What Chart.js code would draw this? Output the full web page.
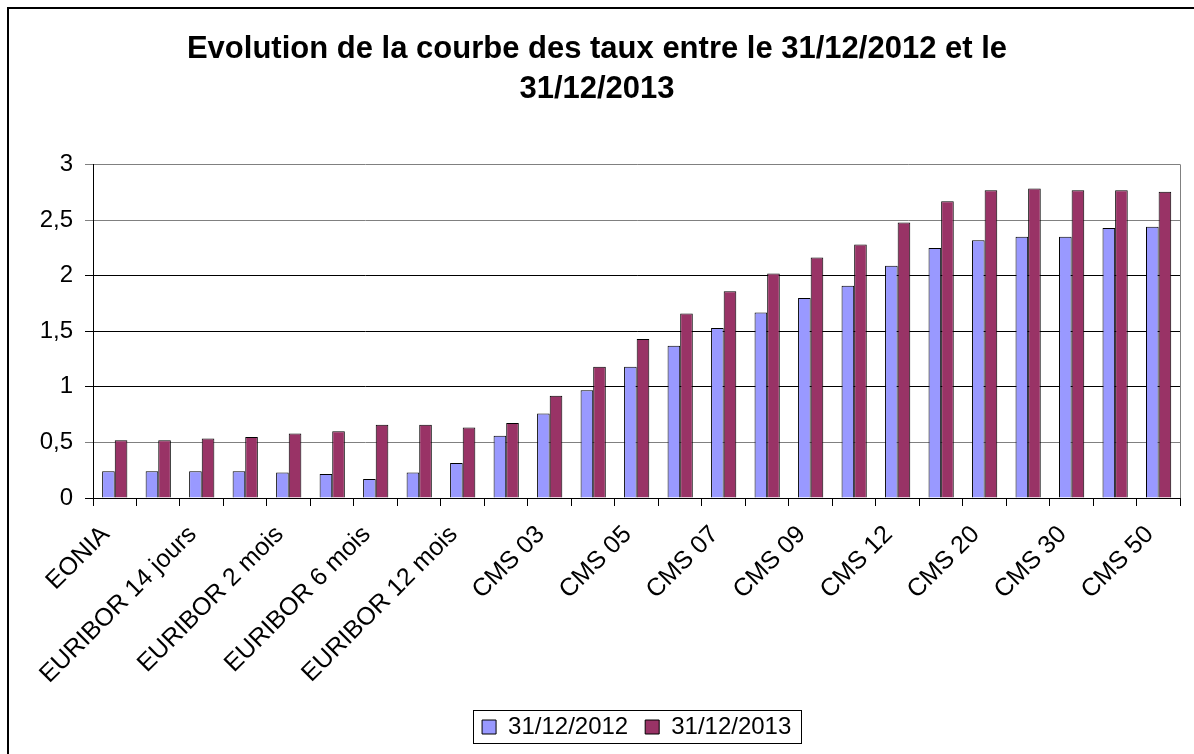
<!DOCTYPE html>
<html>
<head>
<meta charset="utf-8">
<script src="https://cdn.jsdelivr.net/npm/chart.js@4.4.1/dist/chart.umd.min.js"></script>
<style>
  body { margin: 0; background: #fff; }
  canvas { display: block; }
</style>
</head>
<body>
<canvas id="myChart" width="1194" height="754"></canvas>
<script>
const categories = ['EONIA', 'EURIBOR 1 semaine', 'EURIBOR 14 jours', 'EURIBOR 1 mois', 'EURIBOR 2 mois',
  'EURIBOR 3 mois', 'EURIBOR 6 mois', 'EURIBOR 9 mois', 'EURIBOR 12 mois', 'CMS 02', 'CMS 03', 'CMS 04',
  'CMS 05', 'CMS 06', 'CMS 07', 'CMS 08', 'CMS 09', 'CMS 10', 'CMS 12', 'CMS 15', 'CMS 20', 'CMS 25',
  'CMS 30', 'CMS 40', 'CMS 50'];
const rates2012 = [0.24, 0.24, 0.24, 0.24, 0.23, 0.215, 0.17, 0.23, 0.315, 0.56, 0.76, 0.97, 1.18,
  1.37, 1.53, 1.67, 1.80, 1.91, 2.09, 2.25, 2.32, 2.35, 2.35, 2.43, 2.44];
const rates2013 = [0.52, 0.52, 0.535, 0.55, 0.58, 0.60, 0.66, 0.66, 0.635, 0.675, 0.92, 1.18, 1.43,
  1.66, 1.86, 2.02, 2.165, 2.28, 2.48, 2.67, 2.77, 2.785, 2.77, 2.77, 2.755];
const yTicks = [0, 0.5, 1, 1.5, 2, 2.5, 3];
const seriesNames = ['31/12/2012', '31/12/2013'];
const titleLines = ['Evolution de la courbe des taux entre le 31/12/2012 et le', '31/12/2013'];

const FONT = "'Liberation Sans', Arial, sans-serif";

// white background, outer frame, legend box and right border of the plot
const framePlugin = {
  id: 'frame',
  afterLayout(chart) {
    // legend is centred under the plot area, not the whole canvas
    const legend = chart.legend;
    legend.left = chart.chartArea.left;
    legend.right = chart.chartArea.right;
    legend.width = legend.right - legend.left;
  },
  beforeDraw(chart) {
    const ctx = chart.ctx;
    ctx.save();
    ctx.fillStyle = '#fff';
    ctx.fillRect(0, 0, chart.width, chart.height);
    ctx.strokeStyle = '#000';
    ctx.lineWidth = 2;
    ctx.strokeRect(8, 8, chart.width + 10, chart.height + 10);
    ctx.restore();
  },
  afterDraw(chart) {
    const ctx = chart.ctx;
    const area = chart.chartArea;
    ctx.save();
    ctx.strokeStyle = '#808080';
    ctx.lineWidth = 1;
    ctx.beginPath();
    ctx.moveTo(Math.round(area.right) + 0.5, area.top);
    ctx.lineTo(Math.round(area.right) + 0.5, area.bottom);
    ctx.stroke();

    const boxes = chart.legend.legendHitBoxes;
    if (boxes && boxes.length) {
      let left = Math.min(...boxes.map(b => b.left)) - 9;
      let right = Math.max(...boxes.map(b => b.left + b.width)) + 10;
      let top = boxes[0].top - 5;
      let bottom = boxes[0].top + boxes[0].height + 4;
      ctx.strokeStyle = '#000';
      ctx.strokeRect(Math.round(left) + 0.5, Math.round(top) + 0.5, Math.round(right - left), Math.round(bottom - top));
    }
    ctx.restore();
  }
};

new Chart(document.getElementById('myChart'), {
  type: 'bar',
  data: {
    labels: categories,
    datasets: [{
      label: seriesNames[0],
      data: rates2012,
      backgroundColor: '#9999FF',
      borderColor: '#000',
      borderWidth: 1,
      categoryPercentage: 0.58,
      barPercentage: 1
    }, {
      label: seriesNames[1],
      data: rates2013,
      backgroundColor: '#993366',
      borderColor: '#000',
      borderWidth: 1,
      categoryPercentage: 0.58,
      barPercentage: 1
    }]
  },
  options: {
    responsive: false,
    animation: false,
    layout: { padding: { left: 8, right: 8, top: 0, bottom: 5 } },
    plugins: {
      tooltip: { enabled: false },
      title: {
        display: true,
        text: titleLines,
        color: '#000',
        font: { family: FONT, size: 31, weight: 'bold', lineHeight: 1.3 },
        padding: { top: 29, bottom: 55 }
      },
      legend: {
        position: 'bottom',
        labels: {
          color: '#000',
          font: { family: FONT, size: 24 },
          boxWidth: 14,
          boxHeight: 14,
          padding: 17,
          useBorderRadius: false
        }
      }
    },
    scales: {
      x: {
        grid: { offset: true, drawOnChartArea: false, tickLength: 8, color: '#000' },
        border: { color: '#000', width: 1 },
        ticks: {
          color: '#000',
          font: { family: FONT, size: 25 },
          autoSkip: false,
          minRotation: 45,
          maxRotation: 45,
          padding: 14,
          labelOffset: -9,
          callback: function (value, index) {
            return index % 2 === 0 ? this.getLabelForValue(value) : '';
          }
        },
        afterFit(scale) { scale.height = 200; }
      },
      y: {
        min: 0,
        max: 3,
        afterBuildTicks(scale) { scale.ticks = yTicks.map(v => ({ value: v })); },
        grid: {
          tickLength: 8,
          color: (ctx) => [3, 2.5, 0.5].includes(ctx.tick && ctx.tick.value) ? '#808080' : '#000'
        },
        border: { color: '#000', width: 1 },
        ticks: {
          color: '#000',
          font: { family: FONT, size: 24 },
          padding: 12,
          callback: (value) => String(value).replace('.', ',')
        },
        afterFit(scale) { scale.width = 85; }
      }
    }
  },
  plugins: [framePlugin]
});
</script>
</body>
</html>
